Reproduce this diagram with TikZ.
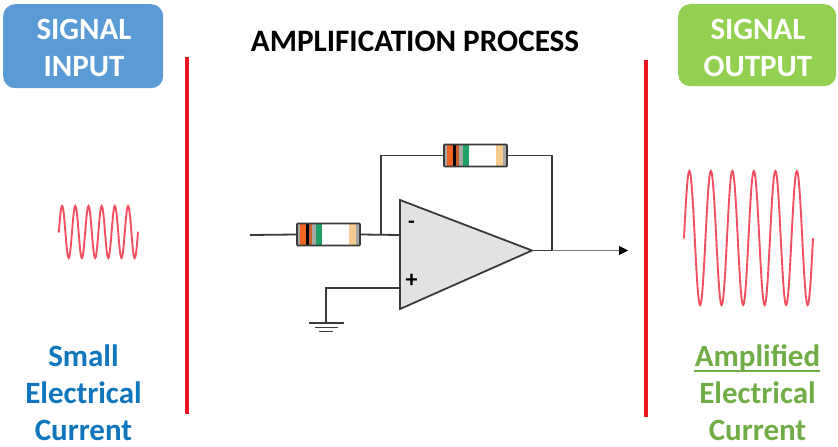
\documentclass[tikz,border=0pt]{standalone}
\usepackage{fontspec}
\setmainfont{Carlito}
\definecolor{boxblue}{HTML}{5B9BD5}
\definecolor{boxgreen}{HTML}{92D050}
\definecolor{txtblue}{HTML}{0F75BD}
\definecolor{txtgreen}{HTML}{70AD47}
\definecolor{barred}{HTML}{E8141F}
\definecolor{wavered}{HTML}{F0505F}
\definecolor{wire}{HTML}{3A3A3A}
\definecolor{opfill}{HTML}{E2E2E2}
\definecolor{bandor}{HTML}{F26522}
\definecolor{bandbr}{HTML}{C8602A}
\definecolor{bandgr}{HTML}{1FA067}
\definecolor{bandtan}{HTML}{F8CC8F}
\definecolor{bandgy}{HTML}{A8A8A8}
\tikzset{
  x=1pt,y=-1pt,
  wireline/.style={draw=wire,line width=1.8pt},
  barline/.style={draw=barred,line width=3.5pt},
  wave/.style={draw=wavered,line width=1.9pt,smooth,line cap=round},
  headbox/.style={rounded corners=12pt,anchor=north west,minimum width=#1,inner sep=0pt},
  headtxt/.style={align=center,inner sep=0pt,text=white,font=\fontsize{31}{37}\selectfont\bfseries},
  captxt/.style={align=center,inner sep=0pt,font=\fontsize{31}{37}\selectfont\bfseries},
  resbody/.style={rectangle,minimum width=63pt,minimum height=22pt,inner sep=0pt},
  resoutline/.style={draw=wire,line width=1.6pt,rounded corners=0.8pt},
}
% #1 name, #2 centre x, #3 centre y, #4 colour of the second band
\newcommand{\myresistor}[4]{%
  \node[resbody,fill=white] (#1) at (#2,#3) {};
  \begin{scope}[shift={(#1.west)}]
    \fill[bandgy] (0,-11) rectangle (63,11);
    \fill[white] (25,-11) rectangle (52,11);
    \fill[bandor] (3.5,-11) rectangle (9.5,11);
    \fill[#4] (9.5,-11) rectangle (12,11);
    \fill[bandbr] (12,-11) rectangle (15.5,11);
    \fill[bandgy] (15.5,-11) rectangle (19,11);
    \fill[bandgr] (19,-11) rectangle (25,11);
    \fill[bandtan] (52,-11) rectangle (59,11);
  \end{scope}
  \node[resbody,resoutline] at (#2,#3) {};
}
\begin{document}
\begin{tikzpicture}
\useasboundingbox (0,0) rectangle (838,447);
% header boxes
\node[headbox=160pt,fill=boxblue,minimum height=84pt] (inbox) at (3,4) {};
\node[headbox=158pt,fill=boxgreen,minimum height=82pt] (outbox) at (678,4) {};
\node[headtxt] (intxt) at (84,47.5) {SIGNAL\\INPUT};
\node[headtxt] (outtxt) at (758,47.5) {SIGNAL\\OUTPUT};
\node[font=\fontsize{31.2}{34}\selectfont\bfseries] (title) at (415,41) {AMPLIFICATION PROCESS};
% bars
\coordinate (b1t) at (187,57); \coordinate (b1b) at (187,414);
\coordinate (b2t) at (646,60); \coordinate (b2b) at (646,417);
\draw[barline] (b1t) -- (b1b);
\draw[barline] (b2t) -- (b2b);
% waves
\draw[wave] plot[domain=0:6,samples=145] ({58.8+13.2*\x},{232-26*sin(360*\x)});
\draw[wave] plot[domain=0:6,samples=145] ({684+21.5*\x},{238-67*sin(360*\x)});
% op-amp
\coordinate (opa) at (400,200);
\coordinate (opb) at (400,309);
\coordinate (opc) at (532,250.5);
\coordinate (inminus) at (400,235);
\coordinate (inplus) at (400,288);
\filldraw[fill=opfill,draw=wire,line width=1.8pt,line join=miter] (opa) -- (opc) -- (opb) -- cycle;
\node[font=\fontsize{22}{22}\selectfont\bfseries] (minus) at (411.5,224.5) {-};
\node[font=\fontsize{24}{24}\selectfont\bfseries] (plus) at (411.5,281) {+};
% wires
\coordinate (instart) at (250,235);
\coordinate (junc) at (381,235);
\coordinate (fbtop) at (381,155.5);
\coordinate (fbright) at (552,155.5);
\coordinate (fbdown) at (552,250.5);
\coordinate (arrowend) at (628,250.5);
\coordinate (gndcorner) at (326,288);
\coordinate (gnd) at (326,323);
\myresistor{rin}{328.5}{234.5}{black}
\myresistor{rfb}{475.5}{155.5}{black}
\draw[wireline] (instart) -- (rin.west);
\draw[wireline] (rin.east) -- (inminus);
\draw[wireline] (junc) -- (fbtop) -- (rfb.west);
\draw[wireline] (rfb.east) -- (fbright) -- (fbdown);
\draw[wireline] (opc) -- (fbdown);
\draw[draw=gray,line width=1.8pt] (fbdown) -- (arrowend);
\fill[black] (arrowend) ++(-9,-4.5) -- ++(9,4.5) -- ++(-9,4.5) -- cycle;
\draw[wireline] (inplus) -- (gndcorner) -- (gnd);
\draw[wireline] (309,323) -- (344,323);
\draw[draw=wire,line width=1.5pt] (314.5,327.5) -- (338,327.5);
\draw[draw=wire,line width=1.5pt] (319,331.5) -- (333,331.5);
% captions
\node[captxt,text=txtblue] (lcap) at (83.5,393) {Small\\Electrical\\Current};
\node[captxt,text=txtgreen] (rcap) at (757.5,392.5) {\makebox[0pt][l]{\hspace{-1pt}\rule[-6pt]{126pt}{2pt}}Amplified\\Electrical\\Current};
\end{tikzpicture}
\end{document}
